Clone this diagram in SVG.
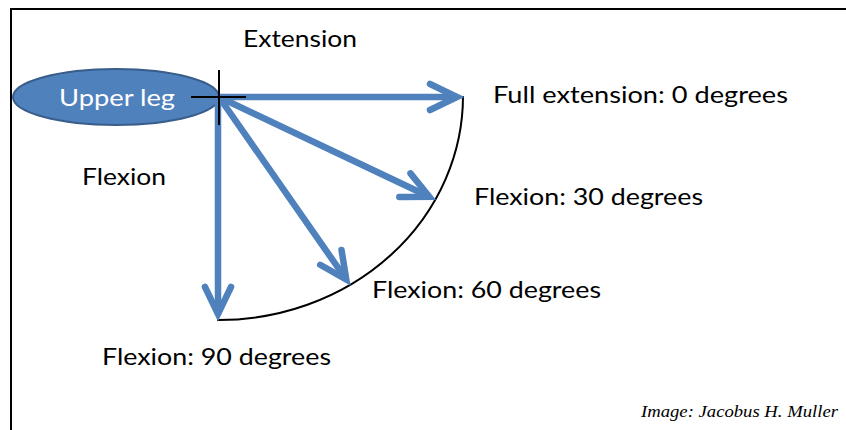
<svg xmlns="http://www.w3.org/2000/svg" width="846" height="430" viewBox="0 0 846 430">
  <defs>
    <style>
      .lbl { font-family: Lato, "Liberation Sans", Arial, sans-serif; font-size: 24px; fill: #000; }
      .node-text { font-family: Lato, "Liberation Sans", Arial, sans-serif; font-size: 24px; fill: #fff; }
      .arrow { stroke: #4F81BD; stroke-width: 6.5; fill: none; marker-end: url(#head); }
      .sig { font-family: "Liberation Serif", "Times New Roman", serif; font-style: italic; font-size: 17px; fill: #000; }
    </style>
    <marker id="head" markerUnits="userSpaceOnUse" viewBox="-32 -17 36 34" markerWidth="36" markerHeight="34" refX="0" refY="0" orient="auto" overflow="visible">
      <path d="M-27,-13 L0,0 L-27,13" fill="none" stroke="#4F81BD" stroke-width="6.5" stroke-linecap="round" stroke-linejoin="miter"/>
    </marker>
  </defs>
  <rect width="846" height="430" fill="#fff"/>
  <g id="frame" stroke="#000" stroke-width="2" fill="none">
    <path d="M11,430 V9 H846"/>
  </g>
  <g id="upper-leg">
    <ellipse cx="116" cy="97" rx="103" ry="28" fill="#4F81BD" stroke="#385D8A" stroke-width="2"/>
    <text class="node-text" x="59" y="106" textLength="116" lengthAdjust="spacingAndGlyphs">Upper leg</text>
  </g>
  <g id="arc">
    <path d="M463,96 A244,224 0 0 1 217,320" fill="none" stroke="#000" stroke-width="2"/>
  </g>
  <g id="connectors">
    <line class="arrow" x1="219" y1="97" x2="457" y2="97"/>
    <line class="arrow" x1="219" y1="97" x2="429.3" y2="196.7"/>
    <line class="arrow" x1="219" y1="97" x2="346.3" y2="279.5"/>
    <line class="arrow" x1="218" y1="97" x2="218" y2="314"/>
  </g>
  <g id="pivot" stroke="#000" stroke-width="2">
    <line x1="191" y1="97" x2="246" y2="97"/>
    <line x1="219" y1="70" x2="219" y2="125"/>
  </g>
  <g id="labels">
    <text class="lbl" x="243" y="47" textLength="114" lengthAdjust="spacingAndGlyphs">Extension</text>
    <text class="lbl" x="82" y="185" textLength="84" lengthAdjust="spacingAndGlyphs">Flexion</text>
    <text class="lbl" x="493" y="103" textLength="295" lengthAdjust="spacingAndGlyphs">Full extension: 0 degrees</text>
    <text class="lbl" x="474" y="205" textLength="229" lengthAdjust="spacingAndGlyphs">Flexion: 30 degrees</text>
    <text class="lbl" x="372" y="298" textLength="229" lengthAdjust="spacingAndGlyphs">Flexion: 60 degrees</text>
    <text class="lbl" x="102" y="365" textLength="229" lengthAdjust="spacingAndGlyphs">Flexion: 90 degrees</text>
  </g>
  <g id="credit">
    <text class="sig" x="641" y="417" textLength="197" lengthAdjust="spacingAndGlyphs">Image: Jacobus H. Muller</text>
  </g>
</svg>
